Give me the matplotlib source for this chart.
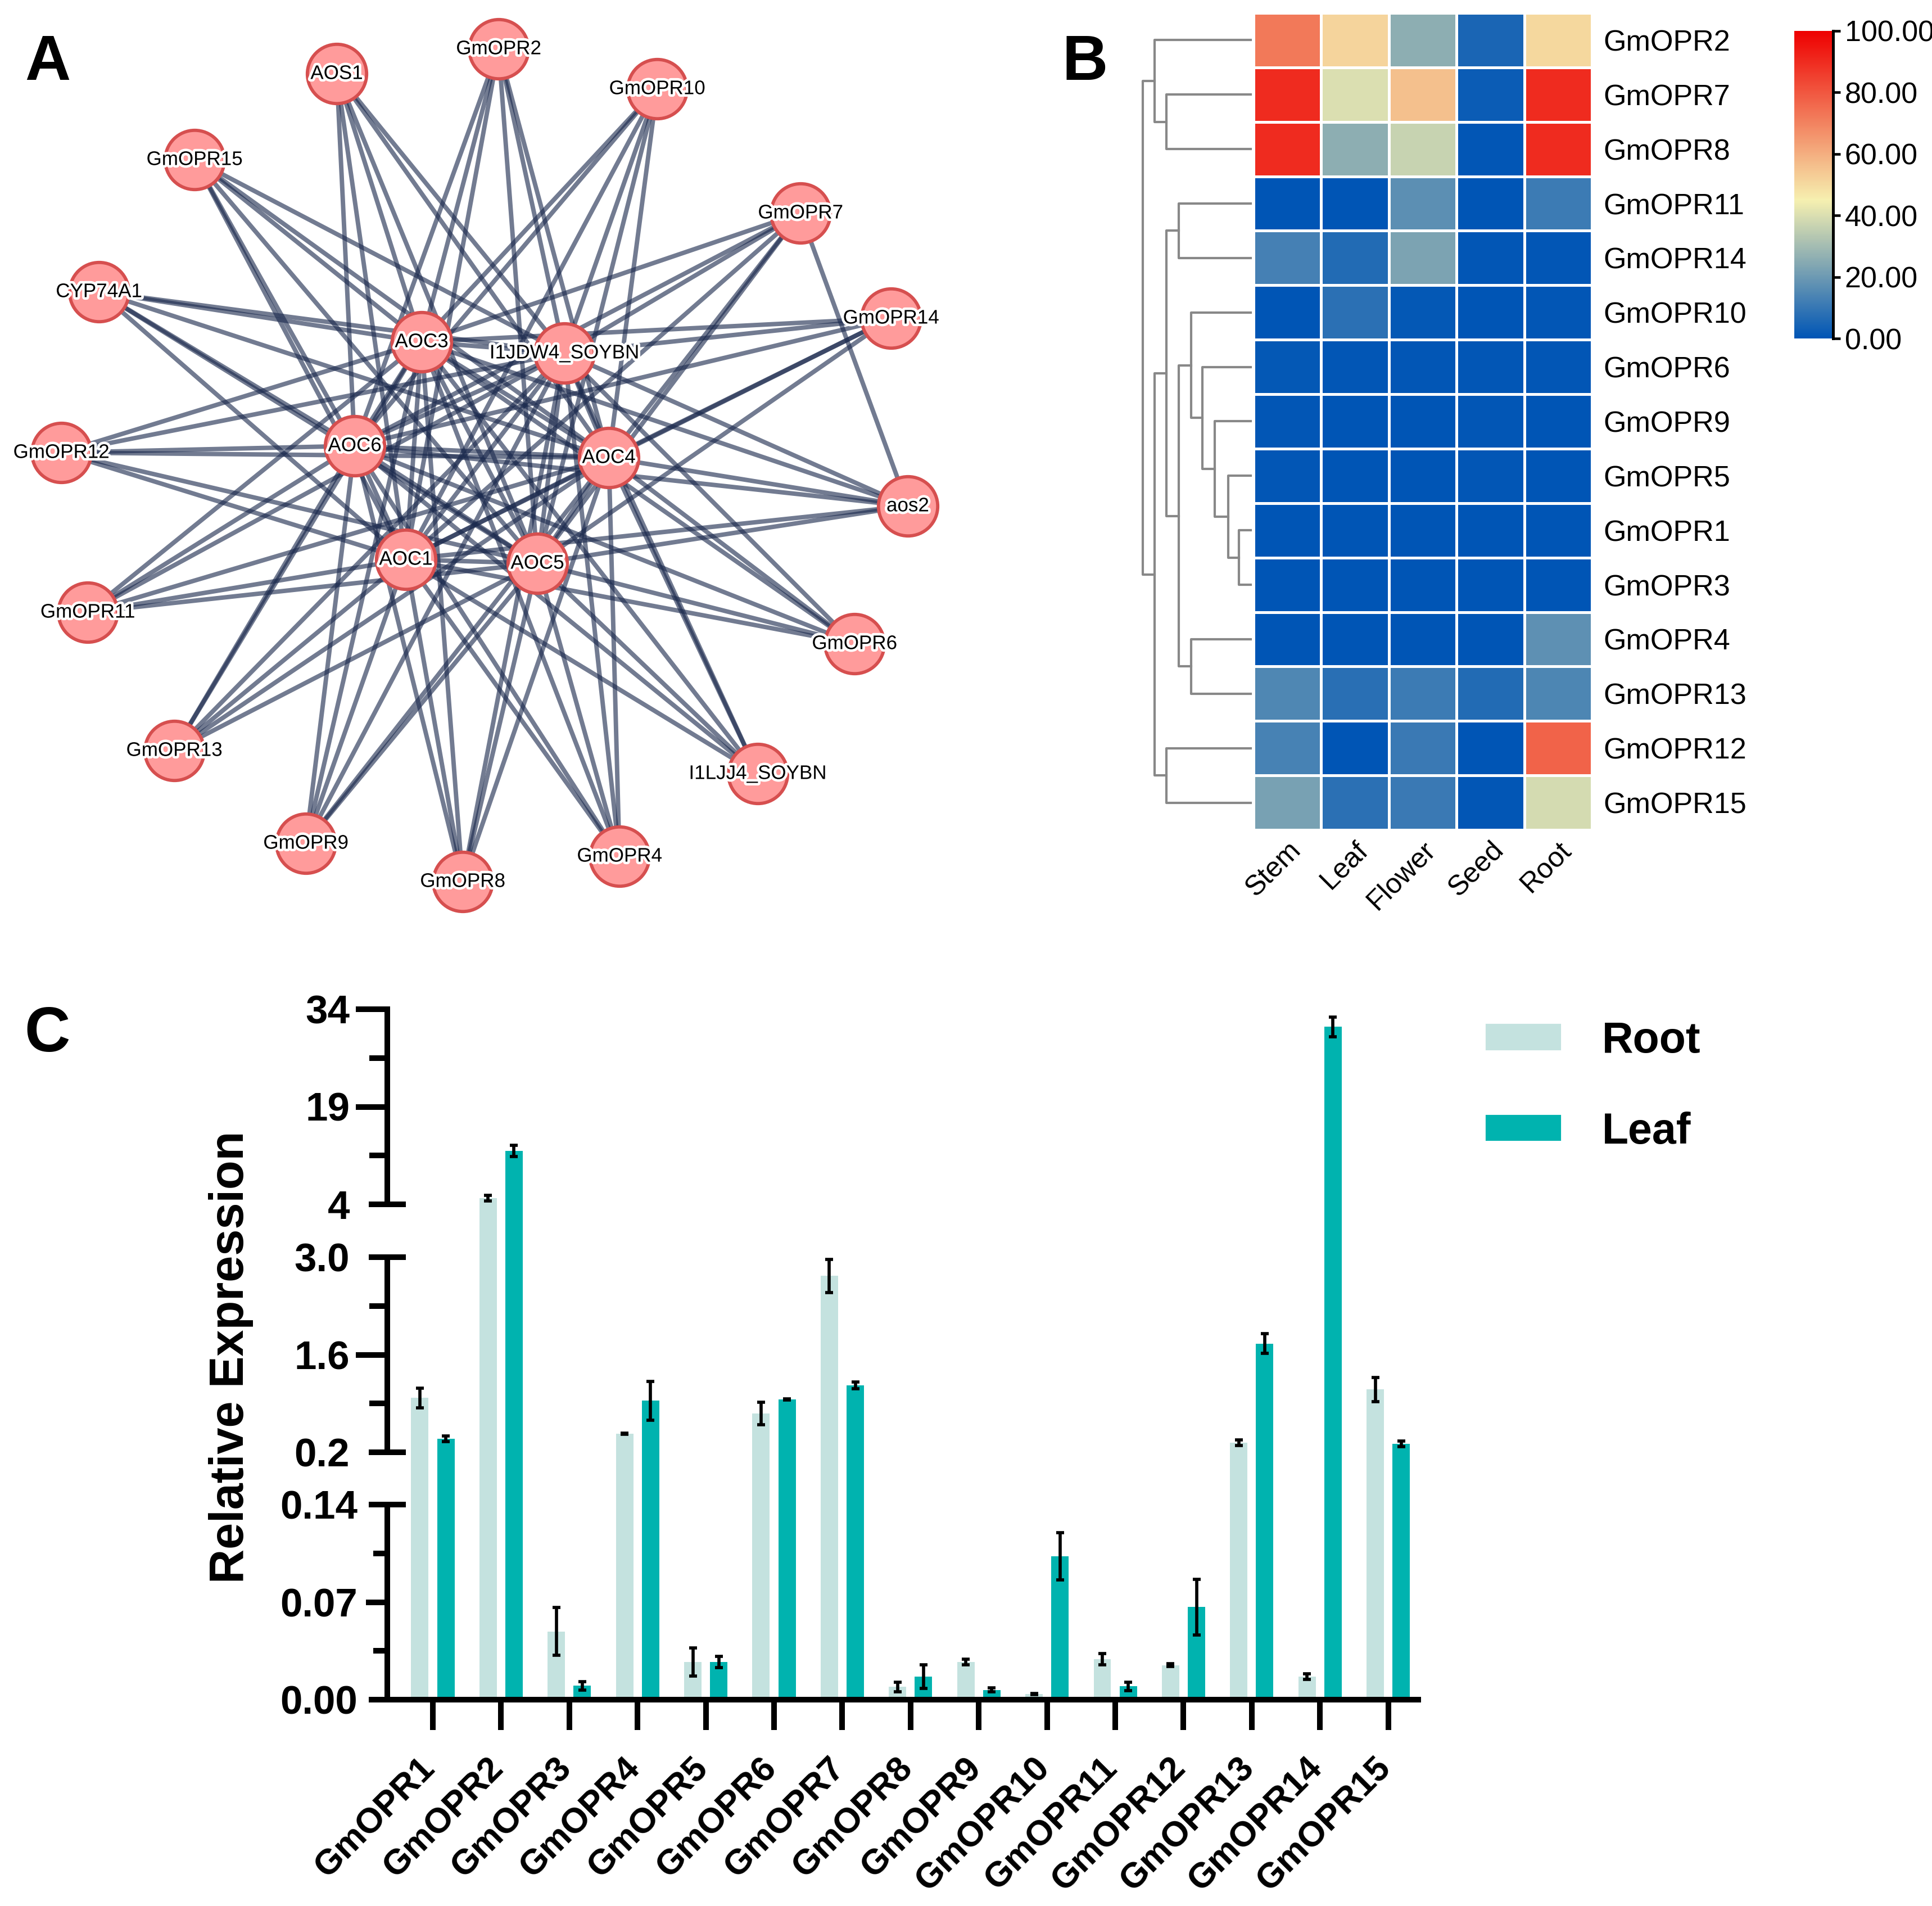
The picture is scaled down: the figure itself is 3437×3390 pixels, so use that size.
import numpy as np
import matplotlib
matplotlib.use('Agg')
import matplotlib.pyplot as plt
import matplotlib.patheffects as pe
import matplotlib.transforms as mtransforms
from matplotlib.colors import LinearSegmentedColormap
from matplotlib.patches import Patch

plt.rcParams['font.family'] = ['Liberation Sans', 'DejaVu Sans']

# ---------------- panel A: interaction network ----------------
node_names = ['AOS1', 'GmOPR2', 'GmOPR10', 'GmOPR15', 'GmOPR7', 'CYP74A1', 'GmOPR14',
              'AOC3', 'I1JDW4_SOYBN', 'GmOPR12', 'AOC6', 'AOC4', 'aos2', 'AOC1', 'AOC5',
              'GmOPR11', 'GmOPR6', 'GmOPR13', 'I1LJJ4_SOYBN', 'GmOPR9', 'GmOPR8', 'GmOPR4']
node_x = [599, 887, 1169, 346, 1424, 176, 1585, 750, 1004, 109, 631, 1083, 1615, 722, 956,
          156, 1520, 310, 1348, 544, 823, 1102]
node_y = [131, 87, 158, 284, 379, 519, 566, 608, 628, 805, 793, 814, 900, 995, 1002,
          1089, 1145, 1335, 1376, 1500, 1568, 1523]
hub_nodes = ['AOC3', 'I1JDW4_SOYBN', 'AOC6', 'AOC4', 'AOC1', 'AOC5']
extra_edges = [('GmOPR7', 'aos2')]

# ---------------- panel B: tissue heatmap ----------------
hm_genes = ['GmOPR2', 'GmOPR7', 'GmOPR8', 'GmOPR11', 'GmOPR14', 'GmOPR10', 'GmOPR6', 'GmOPR9',
            'GmOPR5', 'GmOPR1', 'GmOPR3', 'GmOPR4', 'GmOPR13', 'GmOPR12', 'GmOPR15']
tissues = ['Stem', 'Leaf', 'Flower', 'Seed', 'Root']
hm_values = np.array([
    [72, 51.5, 26, 4.8, 50.5],
    [90, 40, 56, 2, 90],
    [90, 26, 36.5, 0.5, 90],
    [0.3, 0.3, 17, 0.3, 11],
    [12.5, 6.5, 23, 0.5, 0.5],
    [0.3, 8, 1, 0.3, 0.5],
    [0.8, 0.4, 0.4, 0.4, 0.6],
    [0.4, 0.3, 0.3, 0.4, 0.3],
    [0.4, 0.3, 0.3, 0.4, 0.3],
    [0.3, 0.3, 0.3, 0.3, 0.3],
    [0.3, 0.3, 0.3, 0.3, 0.3],
    [0.3, 0.3, 0.3, 0.3, 17.5],
    [14.5, 7.5, 11, 6.3, 14.3],
    [13, 0.3, 10.6, 0.3, 77],
    [22, 8, 10.6, 0.5, 38.8],
])
# dendrogram merges: (child a, child b, height); children >= 15 are earlier clusters
merges = [(1, 2, 158), (0, 15, 180), (3, 4, 135), (9, 10, 22), (8, 18, 42), (7, 19, 67),
          (6, 20, 90), (5, 21, 112), (11, 12, 112), (22, 23, 135), (17, 24, 158),
          (13, 14, 158), (25, 26, 180), (16, 27, 202)]

# ---------------- panel C: qRT-PCR bars ----------------
genes = ['GmOPR%d' % i for i in range(1, 16)]
root = [0.98, 4.95, 0.049, 0.466, 0.027, 0.757, 2.73, 0.0091, 0.027, 0.004, 0.029, 0.0247, 0.337, 0.0165, 1.10]
root_sd = [0.14, 0.45, 0.017, 0.01, 0.010, 0.16, 0.24, 0.0035, 0.002, 0.0005, 0.004, 0.001, 0.04, 0.002, 0.17]
leaf = [0.39, 12.2, 0.010, 0.94, 0.027, 0.96, 1.16, 0.0165, 0.007, 0.103, 0.0096, 0.0665, 1.76, 31.3, 0.32]
leaf_sd = [0.04, 0.84, 0.003, 0.28, 0.004, 0.01, 0.05, 0.0085, 0.0015, 0.017, 0.003, 0.02, 0.14, 1.5, 0.04]
seg_bounds = [(0, 0.14), (0.2, 3.0), (4, 34)]
ytick_major = [0, 0.07, 0.14, 0.2, 1.6, 3.0, 4, 19, 34]
ytick_labels = ['0.00', '0.07', '0.14', '0.2', '1.6', '3.0', '4', '19', '34']

W, H = 3437, 3390
fig = plt.figure(figsize=(W / 300, H / 300), dpi=300)

# ======== A ========
ax_a = fig.add_axes([0, 1 - 1650 / H, 1750 / W, 1650 / H])
ax_a.set_xlim(0, 1750)
ax_a.set_ylim(1650, 0)
ax_a.axis('off')
pos = {n: (x, y) for n, x, y in zip(node_names, node_x, node_y)}
edges = []
for i, h in enumerate(hub_nodes):
    for n in node_names:
        if n == h or (n in hub_nodes and hub_nodes.index(n) < i):
            continue
        edges.append((h, n))
edges += extra_edges
for a, b in edges:
    ax_a.plot([pos[a][0], pos[b][0]], [pos[a][1], pos[b][1]], color='#1B2A4E', alpha=0.62,
              lw=1.9, solid_capstyle='butt', zorder=1)
ax_a.scatter(node_x, node_y, s=640, c='#FF9B9B', edgecolors='#D64F4F', linewidths=1.4, zorder=3)
for n, x, y in zip(node_names, node_x, node_y):
    ax_a.text(x, y, n, ha='center', va='center', fontsize=8.4, zorder=4,
              path_effects=[pe.withStroke(linewidth=2.2, foreground='white')])

# ======== B ========
cmap = LinearSegmentedColormap.from_list('bwr_tb', [(0, '#0055B5'), (0.45, '#F6F0B0'), (1, '#EE0000')])
hm_bottom = 1 - 1476 / H
hm_height = 1453 / H
ax_hm = fig.add_axes([2230 / W, hm_bottom, 602 / W, hm_height])
mesh = ax_hm.pcolormesh(hm_values, cmap=cmap, vmin=0, vmax=100, edgecolors='white', linewidth=0.8)
ax_hm.set_xlim(0, 5)
ax_hm.set_ylim(15, 0)
for s in ax_hm.spines.values():
    s.set_visible(False)
ax_hm.set_xticks(np.arange(5) + 0.5, tissues, fontsize=12)
plt.setp(ax_hm.get_xticklabels(), rotation=45, ha='right', va='top', rotation_mode='anchor')
ax_hm.yaxis.tick_right()
ax_hm.set_yticks(np.arange(15) + 0.5, hm_genes, fontsize=12.5)
ax_hm.tick_params(axis='both', length=0)
ax_hm.tick_params(axis='x', pad=3)
ax_hm.tick_params(axis='y', pad=5)

ax_d = fig.add_axes([2033 / W, hm_bottom, 192 / W, hm_height])
ax_d.set_xlim(202, 0)
ax_d.set_ylim(15, 0)
ax_d.axis('off')
node_pos = [(i + 0.5, 0) for i in range(15)]
for a, b, h in merges:
    ya, ha_ = node_pos[a]
    yb, hb = node_pos[b]
    ax_d.plot([ha_, h, h, hb], [ya, ya, yb, yb], color='#888888', lw=1.0, clip_on=False)
    node_pos.append(((ya + yb) / 2, h))

cax = fig.add_axes([3192 / W, 1 - 602 / H, 69 / W, 547 / H])
cb = fig.colorbar(mesh, cax=cax, ticks=[0, 20, 40, 60, 80, 100])
cb.ax.set_yticklabels(['%.2f' % t for t in [0, 20, 40, 60, 80, 100]])
cb.outline.set_visible(False)
cax.plot([1, 1], [0, 1], transform=cax.transAxes, color='black', lw=1.2, clip_on=False)
cax.tick_params(length=3, width=1.1, labelsize=12.5, pad=2)

# ======== C ========
brk_v = [0, 0.14, 0.2, 3.0, 4, 34]
brk_p = [0, 347, 440, 787, 881, 1228]


def pw(v, xs, ys):
    v = np.asarray(v, dtype=float)
    out = np.interp(v, xs, ys)
    out = np.where(v < xs[0], ys[0] + (v - xs[0]) * (ys[1] - ys[0]) / (xs[1] - xs[0]), out)
    out = np.where(v > xs[-1], ys[-1] + (v - xs[-1]) * (ys[-1] - ys[-2]) / (xs[-1] - xs[-2]), out)
    return out


ax = fig.add_axes([689 / W, 1 - 3023 / H, (2528 - 689) / W, (3023 - 1795) / H])
ax.set_yscale('function', functions=(lambda v: pw(v, brk_v, brk_p), lambda p: pw(p, brk_p, brk_v)))
x = np.arange(len(genes))
ekw = dict(elinewidth=1.35, capthick=1.35, ecolor='black')
ax.bar(x - 0.19, root, width=0.255, color='#C4E2DF', yerr=root_sd, capsize=1.6, error_kw=ekw, label='Root')
ax.bar(x + 0.19, leaf, width=0.255, color='#00B3AF', yerr=leaf_sd, capsize=1.6, error_kw=ekw, label='Leaf')
ax.set_xlim(-0.667, 14.48)
ax.set_ylim(0, 34)
for s in ax.spines.values():
    s.set_visible(False)
ax.tick_params(axis='y', left=False, labelleft=False, which='both')
ax.set_xticks(x, genes, fontsize=15, fontweight='bold')
ax.tick_params(axis='x', length=13, width=2.4, pad=9)
plt.setp(ax.get_xticklabels(), rotation=45, ha='right', va='top', rotation_mode='anchor')
shift = mtransforms.ScaledTranslation(-26 / 300, 0, fig.dpi_scale_trans)
for lab in ax.get_xticklabels():
    lab.set_transform(lab.get_transform() + shift)

axw = 2528 - 689
ytr = ax.get_yaxis_transform()
lw_ax = 2.4
ax.plot([-33 / axw, 1], [0, 0], transform=ytr, color='black', lw=lw_ax, clip_on=False, solid_capstyle='butt')
for lo, hi in seg_bounds:
    ax.plot([0, 0], [lo, hi], transform=ytr, color='black', lw=lw_ax, clip_on=False, solid_capstyle='butt')
for v in [0.14, 0.2, 3.0, 4]:
    ax.plot([-28 / axw, 28 / axw], [v, v], transform=ytr, color='black', lw=lw_ax, clip_on=False)
for v in [34, 19, 1.6]:
    ax.plot([-51 / axw, 0], [v, v], transform=ytr, color='black', lw=lw_ax, clip_on=False)
ax.plot([-33 / axw, 0], [0.07, 0.07], transform=ytr, color='black', lw=lw_ax, clip_on=False)
for v in [11.5, 26.5, 0.9, 2.3]:
    ax.plot([-27 / axw, 0], [v, v], transform=ytr, color='black', lw=lw_ax, clip_on=False)
for v in [0.035, 0.105]:
    ax.plot([-20 / axw, 0], [v, v], transform=ytr, color='black', lw=lw_ax, clip_on=False)
for v, lab in zip(ytick_major, ytick_labels):
    xr = (636 - 689) / axw if v <= 0.14 else (622 - 689) / axw
    ax.text(xr, v, lab, transform=ytr, ha='right', va='center_baseline', fontsize=17, fontweight='bold')

fig.text(411 / W, 1 - 2414 / H, 'Relative Expression', rotation=90, ha='center', va='center',
         fontsize=20.3, fontweight='bold')

ax.legend(handles=[Patch(color='#C4E2DF', label='Root'), Patch(color='#00B3AF', label='Leaf')],
          loc='upper left', bbox_to_anchor=(2645 / W, 1 - 1815 / H), bbox_transform=fig.transFigure,
          frameon=False, prop={'size': 18.5, 'weight': 'bold'}, handlelength=1.69, handleheight=0.47,
          handletextpad=0.97, labelspacing=1.15, borderaxespad=0, borderpad=0)

# panel letters
fig.text(44 / W, 1 - 142 / H, 'A', fontsize=27, fontweight='bold', va='baseline')
fig.text(1890 / W, 1 - 142 / H, 'B', fontsize=27, fontweight='bold', va='baseline')
fig.text(43 / W, 1 - 1870 / H, 'C', fontsize=27, fontweight='bold', va='baseline')

fig.savefig('out.png', dpi=300)
